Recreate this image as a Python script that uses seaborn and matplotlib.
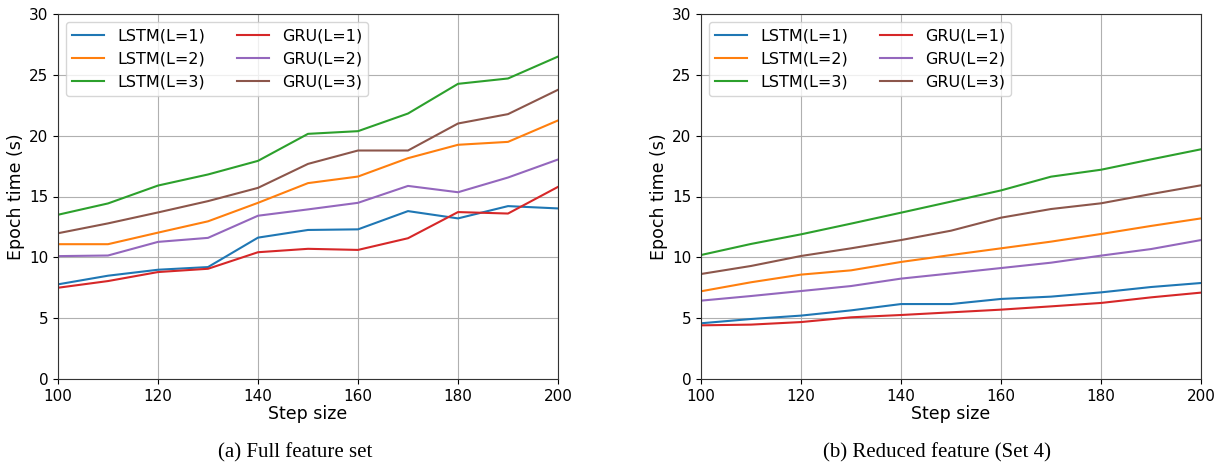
import matplotlib
matplotlib.use("Agg")
import matplotlib.pyplot as plt
import seaborn as sns
import pandas as pd

plt.rcParams["font.family"] = ["DejaVu Sans"]

steps = [100, 110, 120, 130, 140, 150, 160, 170, 180, 190, 200]
series_names = ["LSTM(L=1)", "LSTM(L=2)", "LSTM(L=3)", "GRU(L=1)", "GRU(L=2)", "GRU(L=3)"]

# (a) Full feature set
full_lstm1 = [7.78, 8.49, 8.98, 9.2, 11.62, 12.25, 12.3, 13.8, 13.2, 14.21, 14.02]
full_lstm2 = [11.08, 11.08, 12.03, 12.96, 14.48, 16.1, 16.64, 18.15, 19.25, 19.49, 21.25]
full_lstm3 = [13.5, 14.43, 15.9, 16.81, 17.93, 20.15, 20.37, 21.82, 24.26, 24.7, 26.5]
full_gru1 = [7.5, 8.05, 8.79, 9.06, 10.42, 10.7, 10.61, 11.57, 13.72, 13.6, 15.79]
full_gru2 = [10.1, 10.15, 11.27, 11.6, 13.42, 13.94, 14.48, 15.87, 15.35, 16.56, 18.04]
full_gru3 = [11.98, 12.79, 13.69, 14.62, 15.71, 17.68, 18.78, 18.78, 21.0, 21.77, 23.77]

# (b) Reduced feature (Set 4)
red_lstm1 = [4.58, 4.93, 5.21, 5.64, 6.16, 6.16, 6.58, 6.77, 7.12, 7.56, 7.89]
red_lstm2 = [7.21, 7.95, 8.58, 8.93, 9.62, 10.19, 10.74, 11.29, 11.92, 12.58, 13.2]
red_lstm3 = [10.19, 11.1, 11.89, 12.77, 13.67, 14.58, 15.5, 16.63, 17.2, 18.05, 18.88]
red_gru1 = [4.41, 4.47, 4.68, 5.07, 5.26, 5.48, 5.7, 5.97, 6.25, 6.71, 7.1]
red_gru2 = [6.44, 6.82, 7.23, 7.64, 8.25, 8.68, 9.12, 9.56, 10.14, 10.68, 11.42]
red_gru3 = [8.63, 9.29, 10.11, 10.74, 11.42, 12.19, 13.26, 13.97, 14.44, 15.2, 15.92]

x_ticks = [100, 120, 140, 160, 180, 200]
y_ticks = [0, 5, 10, 15, 20, 25, 30]
captions = ["(a) Full feature set", "(b) Reduced feature (Set 4)"]
x_label = "Step size"
y_label = "Epoch time (s)"

palette = {
    "LSTM(L=1)": "#1f77b4", "LSTM(L=2)": "#ff7f0e", "LSTM(L=3)": "#2ca02c",
    "GRU(L=1)": "#d62728", "GRU(L=2)": "#9467bd", "GRU(L=3)": "#8c564b",
}


def make_df(series_list):
    rows = []
    for name, vals in zip(series_names, series_list):
        for s, v in zip(steps, vals):
            rows.append({"step": s, "time": v, "model": name})
    return pd.DataFrame(rows)


df_full = make_df([full_lstm1, full_lstm2, full_lstm3, full_gru1, full_gru2, full_gru3])
df_red = make_df([red_lstm1, red_lstm2, red_lstm3, red_gru1, red_gru2, red_gru3])

fig = plt.figure(figsize=(12.25, 4.67), dpi=100)
ax_a = fig.add_axes([58 / 1225, 88 / 467, 500 / 1225, 365 / 467])
ax_b = fig.add_axes([701 / 1225, 88 / 467, 500 / 1225, 365 / 467])

for ax, df in [(ax_a, df_full), (ax_b, df_red)]:
    sns.lineplot(data=df, x="step", y="time", hue="model", hue_order=series_names,
                 palette=palette, ax=ax, linewidth=1.5)
    ax.set_xlim(100, 200)
    ax.set_ylim(0, 30)
    ax.set_xticks(x_ticks)
    ax.set_yticks(y_ticks)
    ax.tick_params(labelsize=11)
    ax.grid(True, color="#b0b0b0", linewidth=0.8)
    ax.set_axisbelow(True)
    ax.set_xlabel(x_label, fontsize=12.5, labelpad=1)
    ax.set_ylabel(y_label, fontsize=12.5, labelpad=3)
    handles, labels = ax.get_legend_handles_labels()
    ax.legend(handles, labels, loc="upper left", ncol=2, fontsize=11.5,
              framealpha=0.8, columnspacing=2.0, handlelength=2.0,
              borderaxespad=0.5)
    for sp in ax.spines.values():
        sp.set_color("#333333")

fig.text(295 / 1225, 14 / 467, captions[0], ha="center", va="center",
         fontsize=15, family="Liberation Serif")
fig.text(937 / 1225, 14 / 467, captions[1], ha="center", va="center",
         fontsize=15, family="Liberation Serif")

fig.savefig("out.png", dpi=100)
